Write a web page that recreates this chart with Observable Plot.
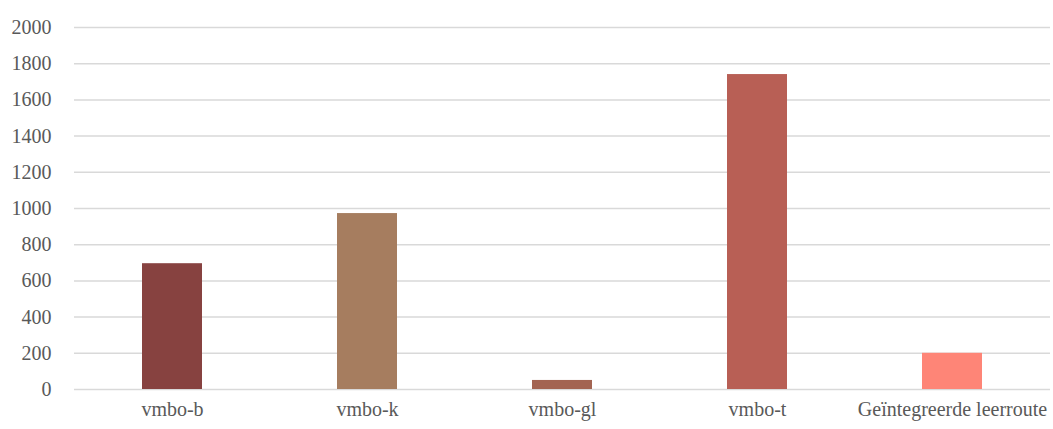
<!DOCTYPE html>
<html>
<head>
<meta charset="utf-8">
<script src="https://cdn.jsdelivr.net/npm/d3@7"></script>
<script src="https://cdn.jsdelivr.net/npm/@observablehq/plot@0.6"></script>
<style>
  html, body { margin: 0; padding: 0; background: #fff; }
  #chart svg { display: block; }
  #chart svg text { font-size: 20px; }
</style>
</head>
<body>
<div id="chart"></div>
<script>
const categories = ["vmbo-b", "vmbo-k", "vmbo-gl", "vmbo-t", "Geïntegreerde leerroute"];
const values = [695, 972, 50, 1740, 200];
const colors = ["#874240", "#a67d5f", "#a36452", "#b85f55", "#fe8577"];
const yTicks = [0, 200, 400, 600, 800, 1000, 1200, 1400, 1600, 1800, 2000];

const data = categories.map((c, i) => ({category: c, value: values[i], color: colors[i]}));

const chart = Plot.plot({
  width: 1053,
  height: 429,
  marginTop: 27,
  marginBottom: 40,
  marginLeft: 74,
  marginRight: 3,
  style: {fontFamily: "'Liberation Serif', 'DejaVu Serif', serif", fontSize: "20px", color: "#595959", background: "#fff"},
  x: {domain: categories, paddingInner: 0.69, paddingOuter: 0.345, label: null, tickSize: 0, tickPadding: 12},
  y: {domain: [0, 2000], ticks: yTicks, label: null, tickSize: 0, tickPadding: 23, tickFormat: d => String(d)},
  marks: [
    Plot.ruleY(yTicks, {stroke: "#d9d9d9", strokeWidth: 1.5}),
    Plot.barY(data, {x: "category", y: "value", fill: "color"})
  ]
});
document.getElementById("chart").appendChild(chart);
</script>
</body>
</html>
